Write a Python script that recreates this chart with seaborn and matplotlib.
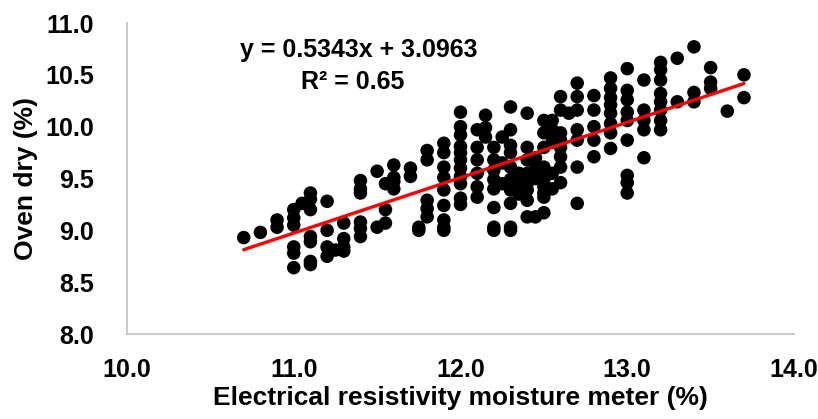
import matplotlib
matplotlib.use("Agg")
import matplotlib.pyplot as plt
import seaborn as sns
import numpy as np
import pandas as pd
from matplotlib.ticker import FormatStrFormatter

# Readings grouped by meter value (one line per column of points)
meter = (
    [10.70] + [10.80] + [10.90] * 2
    + [11.00] * 6 + [11.05]
    + [11.10] * 7
    + [11.20] * 4 + [11.25]
    + [11.30] * 4
    + [11.40] * 6
    + [11.50] * 2 + [11.55] * 3
    + [11.60] * 4
    + [11.70] * 2 + [11.75] * 2
    + [11.80] * 5
    + [11.90] * 9
    + [12.00] * 11
    + [12.10] * 6 + [12.15] * 3
    + [12.20] * 8 + [12.25] * 3
    + [12.30] * 10 + [12.35] * 3
    + [12.40] * 8 + [12.45] * 4
    + [12.50] * 10 + [12.55] * 5
    + [12.60] * 8 + [12.65]
    + [12.70] * 7
    + [12.80] * 5
    + [12.90] * 8
    + [13.00] * 9
    + [13.10] * 5
    + [13.20] * 8
    + [13.30] * 2
    + [13.40] * 3
    + [13.50] * 3
    + [13.60]
    + [13.70] * 2
)
oven = (
    [8.93] + [8.98] + [9.10, 9.03]
    + [9.20, 9.12, 9.05, 8.84, 8.78, 8.64] + [9.26]
    + [9.36, 9.30, 9.20, 8.94, 8.89, 8.70, 8.67]
    + [9.28, 9.00, 8.84, 8.75] + [8.81]
    + [9.07, 8.92, 8.84, 8.80]
    + [9.48, 9.40, 9.36, 9.08, 9.02, 8.94]
    + [9.57, 9.03] + [9.45, 9.20, 9.07]
    + [9.63, 9.51, 9.47, 9.40]
    + [9.60, 9.52] + [9.03, 9.00]
    + [9.77, 9.68, 9.29, 9.21, 9.13]
    + [9.84, 9.75, 9.61, 9.51, 9.39, 9.24, 9.10, 9.03, 9.00]
    + [10.14, 10.00, 9.92, 9.81, 9.75, 9.68, 9.60, 9.52, 9.45, 9.31, 9.25]
    + [9.97, 9.80, 9.68, 9.55, 9.42, 9.32] + [10.11, 9.99, 9.90]
    + [9.80, 9.68, 9.58, 9.49, 9.40, 9.22, 9.03, 9.00] + [9.90, 9.65, 9.45]
    + [10.19, 9.97, 9.82, 9.75, 9.61, 9.49, 9.39, 9.26, 9.03, 9.00] + [9.55, 9.45, 9.35]
    + [10.13, 9.80, 9.68, 9.55, 9.45, 9.39, 9.29, 9.13] + [9.70, 9.60, 9.50, 9.13]
    + [10.06, 9.94, 9.80, 9.61, 9.51, 9.49, 9.42, 9.36, 9.32, 9.17]
    + [10.06, 9.97, 9.85, 9.55, 9.40]
    + [10.29, 10.16, 9.94, 9.87, 9.80, 9.71, 9.61, 9.46] + [10.13]
    + [10.42, 10.29, 10.16, 9.97, 9.87, 9.61, 9.26]
    + [10.30, 10.16, 10.00, 9.87, 9.71]
    + [10.47, 10.37, 10.28, 10.21, 10.13, 10.03, 9.94, 9.79]
    + [10.56, 10.35, 10.26, 10.14, 10.06, 9.87, 9.53, 9.46, 9.36]
    + [10.45, 10.16, 10.06, 9.97, 9.70]
    + [10.62, 10.55, 10.45, 10.32, 10.24, 10.16, 10.06, 9.97]
    + [10.66, 10.24]
    + [10.77, 10.33, 10.24]
    + [10.57, 10.43, 10.37]
    + [10.15]
    + [10.50, 10.28]
)

# Trendline as reported on the chart
slope = 0.5343
intercept = 3.0963
r_squared = 0.65

x_ticks = [10.0, 11.0, 12.0, 13.0, 14.0]
y_ticks = [8.0, 8.5, 9.0, 9.5, 10.0, 10.5, 11.0]

df = pd.DataFrame({"meter": meter, "oven": oven})

sns.set_theme(style="white")
plt.rcParams.update({
    "font.family": ["Liberation Sans", "DejaVu Sans"],
    "text.color": "black",
    "axes.labelcolor": "black",
    "xtick.color": "black",
    "ytick.color": "black",
})

fig = plt.figure(figsize=(8.18, 4.19), dpi=100)
ax = fig.add_axes([127 / 818, 85 / 419, 667 / 818, 311 / 419])

sns.scatterplot(data=df, x="meter", y="oven", ax=ax, color="black",
                s=95, edgecolor="none", linewidth=0, zorder=2)

xl = np.array([df["meter"].min(), df["meter"].max()])
ax.plot(xl, slope * xl + intercept, color="#FF0000", linewidth=2.4, zorder=3)

ax.set_xlim(x_ticks[0], x_ticks[-1])
ax.set_ylim(y_ticks[0], y_ticks[-1])
ax.set_xticks(x_ticks)
ax.set_yticks(y_ticks)
ax.xaxis.set_major_formatter(FormatStrFormatter("%.1f"))
ax.yaxis.set_major_formatter(FormatStrFormatter("%.1f"))
ax.tick_params(axis="both", length=0, labelsize=18, labelcolor="black")
ax.tick_params(axis="x", pad=17)
ax.tick_params(axis="y", pad=24)
for lab in ax.get_xticklabels() + ax.get_yticklabels():
    lab.set_fontweight("bold")

for side in ["top", "right"]:
    ax.spines[side].set_visible(False)
for side in ["left", "bottom"]:
    ax.spines[side].set_color("#BFBFBF")
    ax.spines[side].set_linewidth(1.2)

ax.set_xlabel("Electrical resistivity moisture meter (%)", fontsize=19,
              fontweight="bold", labelpad=3, color="black")
ax.set_ylabel("Oven dry (%)", fontsize=19, fontweight="bold", labelpad=5,
              color="black")

ax.text(0.347, 0.913, f"y = {slope}x + {intercept}", transform=ax.transAxes,
        ha="center", va="center", fontsize=18, fontweight="bold", color="black")
ax.text(0.338, 0.810, f"R² = {r_squared}", transform=ax.transAxes,
        ha="center", va="center", fontsize=18, fontweight="bold", color="black")

fig.savefig("out.png", dpi=100)
plt.close(fig)
